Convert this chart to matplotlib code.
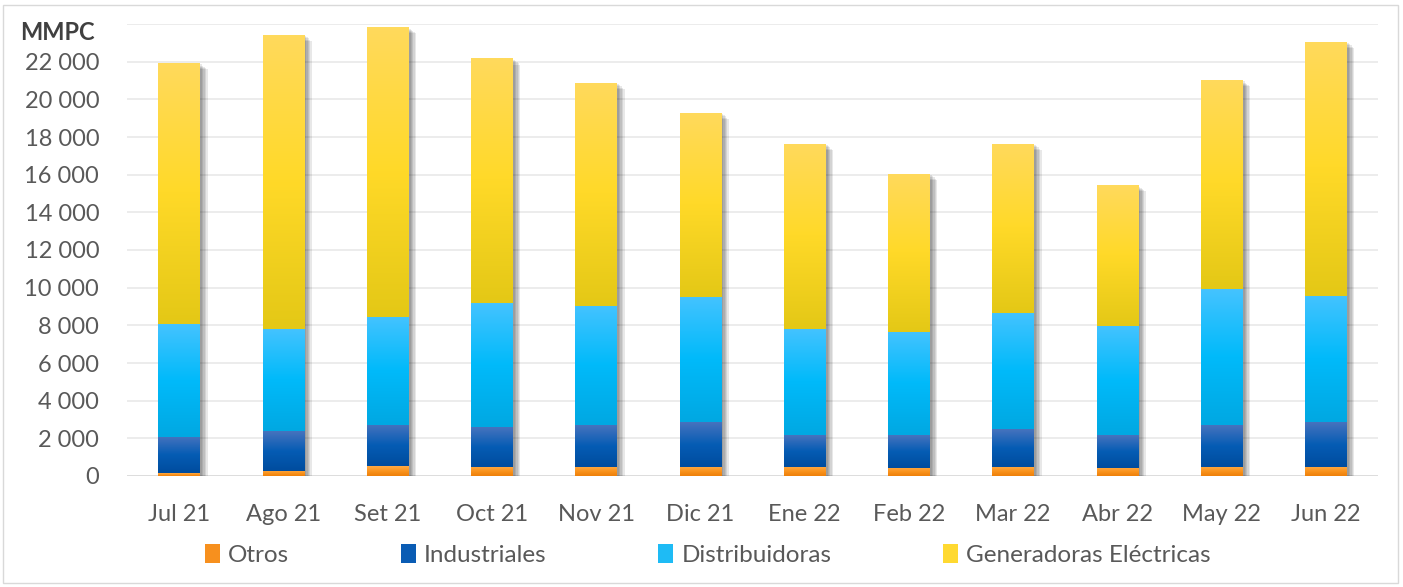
import matplotlib
matplotlib.use("Agg")
import matplotlib.pyplot as plt
import numpy as np
from matplotlib import patheffects as pe
from matplotlib.patches import Rectangle

plt.rcParams['font.family'] = ['Lato', 'DejaVu Sans']

months = ["Jul 21", "Ago 21", "Set 21", "Oct 21", "Nov 21", "Dic 21",
          "Ene 22", "Feb 22", "Mar 22", "Abr 22", "May 22", "Jun 22"]
otros = [150, 290, 520, 500, 500, 500, 500, 440, 500, 440, 500, 500]
industriales = [1940, 2100, 2180, 2120, 2200, 2350, 1680, 1740, 1980, 1740, 2210, 2350]
distribuidoras = [5970, 5420, 5740, 6560, 6340, 6650, 5630, 5490, 6170, 5790, 7220, 6720]
generadoras = [13880, 15630, 15390, 12990, 11850, 9800, 9840, 8390, 9000, 7480, 11110, 13500]
series_names = ["Otros", "Industriales", "Distribuidoras", "Generadoras Eléctricas"]
yticks = list(range(0, 24001, 2000))

TEXT = "#595959"

def fmt(v):
    return f"{v:,}".replace(",", " ")

def grad(top, mid, bot, n=96):
    top, mid, bot = [np.array(c, float) / 255 for c in (top, mid, bot)]
    t = np.linspace(0, 1, n)[:, None]
    up = top + (mid - top) * np.clip(t / 0.5, 0, 1)
    down = mid + (bot - mid) * np.clip((t - 0.5) / 0.5, 0, 1)
    img = np.where(t < 0.5, up, down)
    return img[:, None, :]

styles = [
    dict(base="#F7901E", g=grad((255, 170, 70), (250, 148, 30), (238, 128, 10))),
    dict(base="#0A5CB4", g=grad((70, 115, 190), (5, 92, 180), (0, 76, 158))),
    dict(base="#1EBBF5", g=grad((68, 195, 255), (0, 186, 250), (0, 168, 226))),
    dict(base="#FFD931", g=grad((255, 218, 92), (255, 217, 40), (228, 200, 22))),
]

W, H = 1403, 587
fig = plt.figure(figsize=(W / 100, H / 100), dpi=100)
ax = fig.add_axes([127 / W, (H - 476) / H, (1378 - 127) / W, (476 - 24) / H])

x = np.arange(len(months))
bw = 0.40
data = [otros, industriales, distribuidoras, generadoras]
totals = np.sum(np.array(data), axis=0)

# drop shadow
shadows = [pe.SimplePatchShadow(offset=(d, -d * 0.8), shadow_rgbFace="black", alpha=0.09)
           for d in (1.5, 2.5, 3.5, 4.5, 5.5)]
ax.bar(x, totals, bw, facecolor="none", edgecolor="none", zorder=1.5, path_effects=shadows)

bottom = np.zeros(len(months))
for vals, st in zip(data, styles):
    bars = ax.bar(x, vals, bw, bottom=bottom, color=st["base"], linewidth=0, zorder=2)
    for p in bars:
        x0, w, y0, h = p.get_x(), p.get_width(), p.get_y(), p.get_height()
        im = ax.imshow(st["g"], extent=(x0, x0 + w, y0, y0 + h), origin="upper",
                       aspect="auto", interpolation="bilinear", zorder=2.1)
        im.set_clip_path(p)
    bottom = bottom + np.array(vals)

ax.set_xlim(-0.5, len(months) - 0.5)
ax.set_ylim(0, 24000)
ax.set_yticks(yticks)
ax.set_yticklabels([fmt(v) if v < 24000 else "" for v in yticks])
ax.set_xticks(x)
ax.set_xticklabels(months)
ax.set_axisbelow(True)
ax.yaxis.grid(True, color="#EAEAEA", lw=1.3)
ax.axhline(0, color="#DCDCDC", lw=1.3, zorder=1)
for s in ax.spines.values():
    s.set_visible(False)
ax.tick_params(axis="both", length=0, labelsize=17, labelcolor=TEXT)
ax.tick_params(axis="y", pad=20)
ax.tick_params(axis="x", pad=20.5)

fig.text(20 / W, 1 - 32 / H, "MMPC", ha="left", va="center", fontsize=17,
         fontweight="bold", color="#404040")

handles = [Rectangle((0, 0), 1, 1, facecolor=st["base"], edgecolor="none") for st in styles]
fig.legend(handles, series_names, loc="center", bbox_to_anchor=(708 / W, 1 - 555 / H),
           ncol=4, frameon=False, fontsize=17.5, columnspacing=4.6, handlelength=0.6,
           handleheight=0.8, handletextpad=0.35, labelcolor=TEXT)

fig.add_artist(Rectangle((3 / W, 4 / H), (1398 - 3) / W, (582 - 4) / H, transform=fig.transFigure,
                         fill=False, edgecolor="#D9D9D9", lw=1))

fig.savefig("out.png", dpi=100)
